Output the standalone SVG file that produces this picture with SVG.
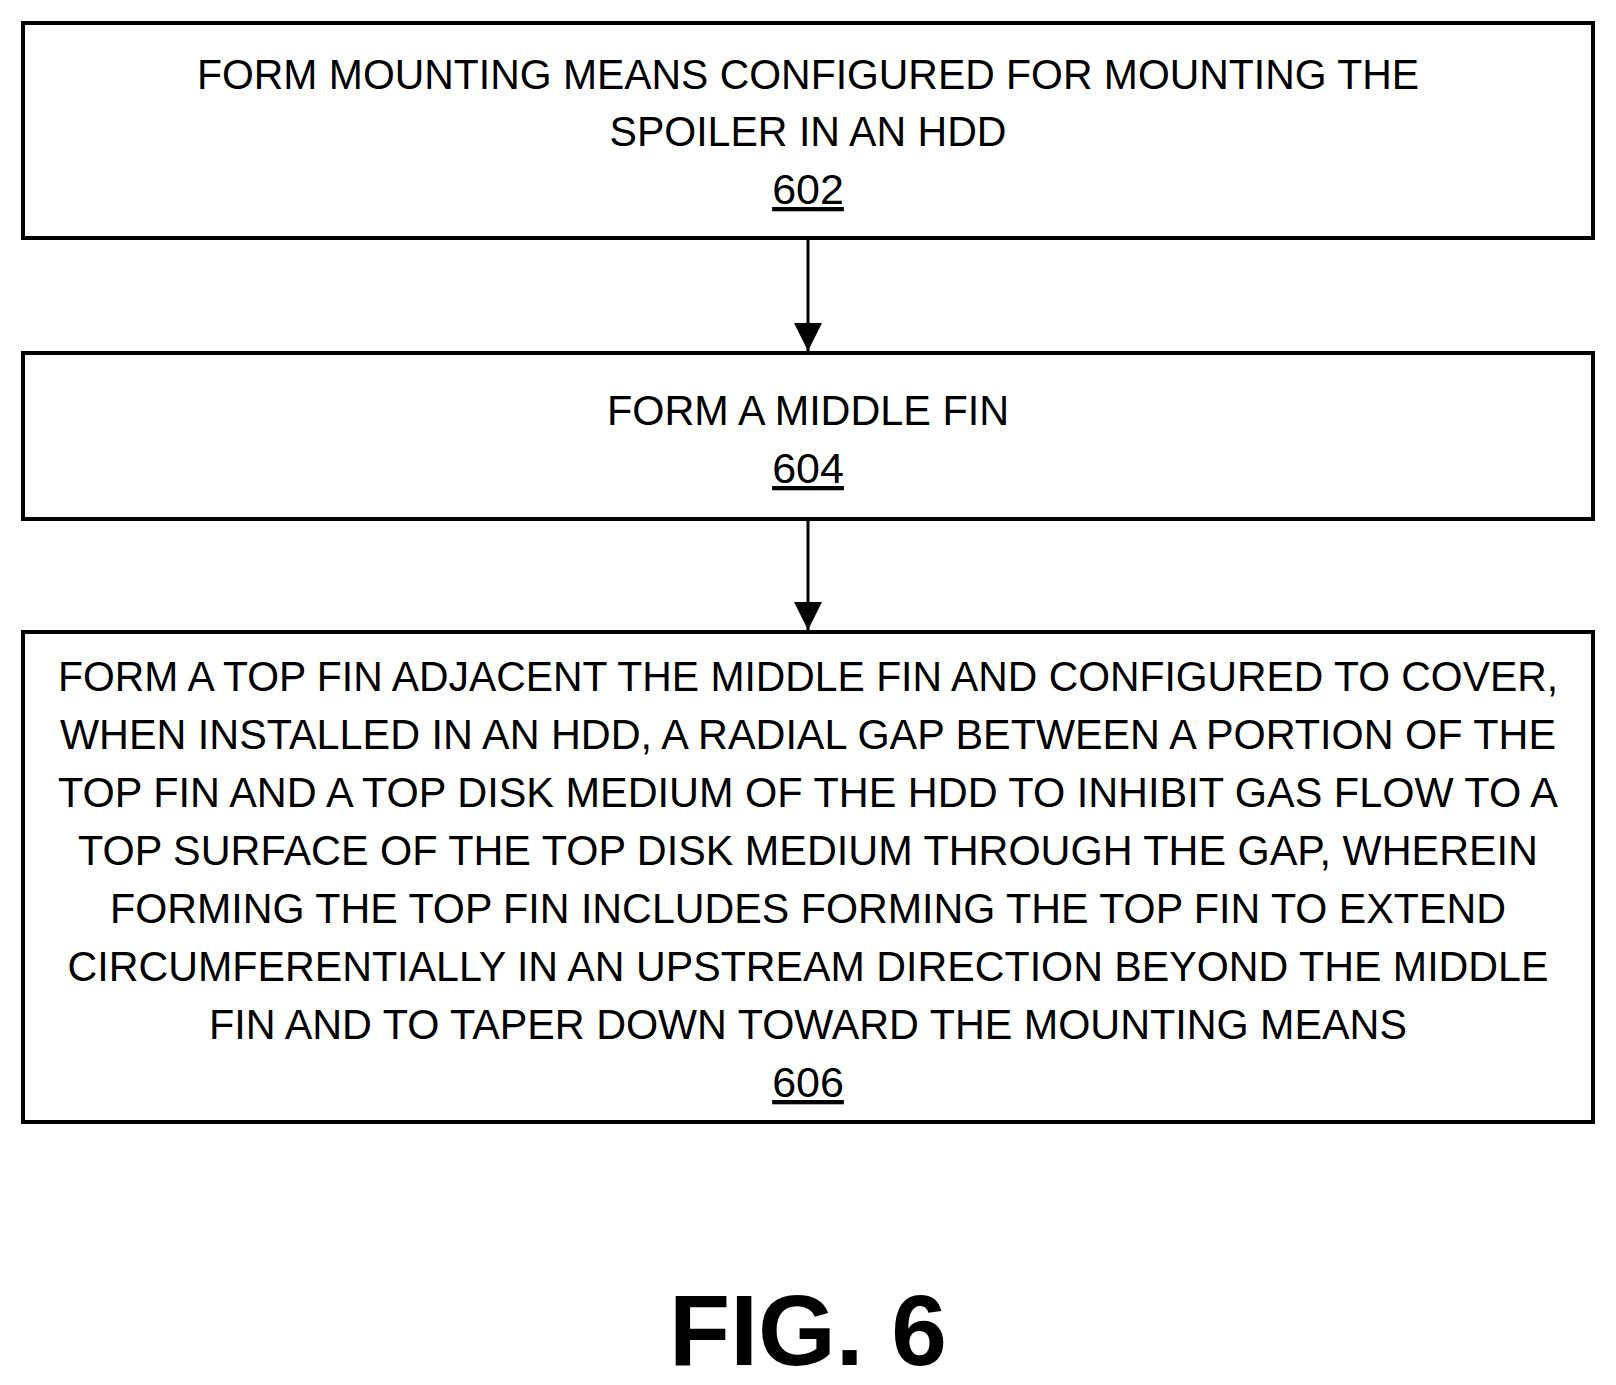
<svg xmlns="http://www.w3.org/2000/svg" width="1616" height="1385" viewBox="0 0 1616 1385">
<defs><marker id="ah" markerWidth="28" markerHeight="28" refX="28" refY="14" orient="auto" markerUnits="userSpaceOnUse" viewBox="0 0 28 28"><path d="M0,0 L28,14 L0,28 z" fill="#000"/></marker></defs>
<style>
.box{fill:#fff;stroke:#000;stroke-width:4}
text{font-family:"Liberation Sans",Arial,sans-serif;font-size:43px;text-anchor:middle;fill:#000}
.n{text-decoration:underline}
line{stroke:#000;stroke-width:3}
</style>
<rect width="1616" height="1385" fill="#fff"/>
<g id="n602"><rect class="box" x="23" y="23" width="1570" height="215"/>
<text x="808" y="89" textLength="1222" lengthAdjust="spacingAndGlyphs">FORM MOUNTING MEANS CONFIGURED FOR MOUNTING THE</text>
<text x="808" y="146" textLength="397" lengthAdjust="spacingAndGlyphs">SPOILER IN AN HDD</text>
<text x="808" y="204" class="n">602</text></g>
<g id="n604"><rect class="box" x="23" y="353" width="1570" height="166"/>
<text x="808" y="425" textLength="402" lengthAdjust="spacingAndGlyphs">FORM A MIDDLE FIN</text>
<text x="808" y="483" class="n">604</text></g>
<g id="n606"><rect class="box" x="23" y="632" width="1570" height="490"/>
<text x="808" y="691" textLength="1500" lengthAdjust="spacingAndGlyphs">FORM A TOP FIN ADJACENT THE MIDDLE FIN AND CONFIGURED TO COVER,</text>
<text x="808" y="749" textLength="1496" lengthAdjust="spacingAndGlyphs">WHEN INSTALLED IN AN HDD, A RADIAL GAP BETWEEN A PORTION OF THE</text>
<text x="808" y="807" textLength="1500" lengthAdjust="spacingAndGlyphs">TOP FIN AND A TOP DISK MEDIUM OF THE HDD TO INHIBIT GAS FLOW TO A</text>
<text x="808" y="865" textLength="1460" lengthAdjust="spacingAndGlyphs">TOP SURFACE OF THE TOP DISK MEDIUM THROUGH THE GAP, WHEREIN</text>
<text x="808" y="923" textLength="1396" lengthAdjust="spacingAndGlyphs">FORMING THE TOP FIN INCLUDES FORMING THE TOP FIN TO EXTEND</text>
<text x="808" y="981" textLength="1481" lengthAdjust="spacingAndGlyphs">CIRCUMFERENTIALLY IN AN UPSTREAM DIRECTION BEYOND THE MIDDLE</text>
<text x="808" y="1039" textLength="1198" lengthAdjust="spacingAndGlyphs">FIN AND TO TAPER DOWN TOWARD THE MOUNTING MEANS</text>
<text x="808" y="1097" class="n">606</text></g>
<g id="connectors">
<line x1="808" y1="240" x2="808" y2="351" marker-end="url(#ah)"/>
<line x1="808" y1="521" x2="808" y2="630" marker-end="url(#ah)"/>
</g>
<text x="808" y="1365" style="font-size:100px;font-weight:bold">FIG. 6</text>
</svg>
